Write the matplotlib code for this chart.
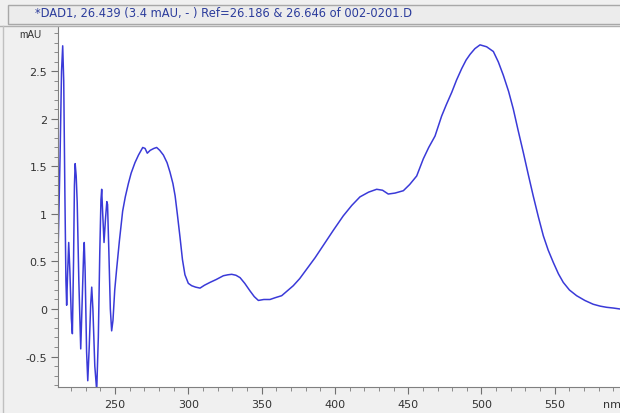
import matplotlib
matplotlib.use("Agg")
import matplotlib.pyplot as plt
from matplotlib.patches import Rectangle
from matplotlib.lines import Line2D
from matplotlib.ticker import MultipleLocator

plt.rcParams['font.family'] = ['DejaVu Sans']

# UV/Vis spectrum (wavelength in nm, absorbance in mAU)
wavelength = [
    211.3, 212.5, 213.5, 214.3, 215.0, 215.8, 216.5, 217.0, 217.6, 218.4,
    219.2, 220.2, 220.9, 221.7, 222.3, 222.8, 223.5, 224.2, 225.3, 226.6,
    227.6, 228.6, 229.0, 229.6, 230.6, 231.4, 232.4, 233.4, 234.1, 234.9,
    236.2, 237.5, 238.6, 239.6, 240.4, 240.9, 241.6, 242.5, 243.5, 244.4,
    244.9, 245.8, 246.8, 247.7, 248.6, 249.8, 251.1, 253.0, 255.2, 257.0,
    259.1, 261.0, 263.6, 266.0, 268.9, 270.5, 272.0, 274.0, 276.5, 278.4,
    280.5, 283.0, 285.5, 287.5, 289.5, 291.0, 292.5, 294.3, 296.0, 297.7,
    300.0, 302.3, 305.0, 308.0, 311.0, 314.8, 319.0, 323.9, 327.0, 329.6,
    332.5, 335.3, 338.5, 342.1, 345.0, 347.8, 351.5, 355.7, 359.5, 363.7,
    367.5, 371.6, 376.0, 380.8, 386.5, 392.1, 399.0, 405.7, 411.5, 417.1,
    423.0, 428.5, 432.5, 436.4, 441.0, 446.7, 451.0, 455.8, 460.3, 464.0,
    468.3, 472.8, 476.0, 479.7, 483.0, 486.5, 489.5, 492.2, 495.5, 499.0,
    503.5, 508.1, 511.5, 514.9, 518.5, 521.7, 525.0, 528.5, 532.0, 535.3,
    538.8, 542.2, 545.5, 549.0, 552.5, 555.8, 560.0, 564.9, 570.5, 576.2,
    581.0, 585.3, 590.0, 594.5,
]
absorbance = [
    0.71, 1.60, 2.50, 2.77, 2.40, 1.20, 0.30, 0.04, 0.35, 0.70,
    0.40, -0.10, -0.26, 0.50, 1.30, 1.53, 1.40, 1.12, 0.30, -0.42,
    0.10, 0.60, 0.70, 0.40, -0.45, -0.755, -0.40, 0.05, 0.23, 0.00,
    -0.60, -0.86, -0.30, 0.60, 1.15, 1.26, 1.00, 0.70, 0.95, 1.13,
    1.10, 0.60, 0.00, -0.23, -0.12, 0.20, 0.42, 0.72, 1.03, 1.18,
    1.32, 1.43, 1.54, 1.62, 1.70, 1.69, 1.64, 1.67, 1.69, 1.70,
    1.67, 1.62, 1.54, 1.44, 1.32, 1.19, 1.00, 0.76, 0.52, 0.36,
    0.27, 0.245, 0.23, 0.22, 0.25, 0.28, 0.31, 0.35, 0.36, 0.365,
    0.355, 0.33, 0.27, 0.19, 0.13, 0.09, 0.10, 0.10, 0.12, 0.14,
    0.19, 0.245, 0.32, 0.42, 0.54, 0.67, 0.83, 0.98, 1.09, 1.18,
    1.23, 1.26, 1.25, 1.21, 1.22, 1.245, 1.31, 1.40, 1.58, 1.70,
    1.82, 2.03, 2.15, 2.28, 2.41, 2.53, 2.62, 2.68, 2.74, 2.78,
    2.76, 2.71, 2.60, 2.46, 2.29, 2.105, 1.88, 1.65, 1.41, 1.19,
    0.97, 0.77, 0.62, 0.49, 0.37, 0.28, 0.20, 0.14, 0.09, 0.05,
    0.03, 0.018, 0.01, 0.00,
]

header = "*DAD1, 26.439 (3.4 mAU, - ) Ref=26.186 & 26.646 of 002-0201.D"
y_ticks = [-0.5, 0, 0.5, 1, 1.5, 2, 2.5]
y_labels = ["-0.5", "0", "0.5", "1", "1.5", "2", "2.5"]
x_ticks = [250, 300, 350, 400, 450, 500, 550]

W, H = 620, 414
fig = plt.figure(figsize=(W / 100, H / 100), dpi=100, facecolor="#f0f0f0")

# window chrome: header strip with the trace description
fig.patches.append(Rectangle((8 / W, 1 - 25 / H), 1, 19 / H, transform=fig.transFigure,
                             facecolor="#ececec", edgecolor="#a8a8a8", lw=1.0))
fig.lines.append(Line2D([0, 1], [1 - 27 / H, 1 - 27 / H], transform=fig.transFigure,
                        color="#b0b0b0", lw=1.0))
fig.lines.append(Line2D([2.5 / W, 2.5 / W], [0, 1 - 27 / H], transform=fig.transFigure,
                        color="#c0c0c0", lw=1.0))
fig.text(35 / W, 1 - 14 / H, header, color="#2b3c9c", fontsize=8.3, va="center", ha="left")

ax = fig.add_axes([58.3 / W, 1 - 388 / H, 1 - 58.3 / W, (388 - 28) / H])
ax.set_facecolor("white")
ax.plot(wavelength, absorbance, color="#3a3ad8", lw=1.1)

ax.set_xlim(211.3, 594.5)
ax.set_ylim(-0.821, 2.968)

ax.set_xticks(x_ticks)
ax.set_xticklabels([str(t) for t in x_ticks])
ax.xaxis.set_minor_locator(MultipleLocator(10))
ax.set_yticks(y_ticks)
ax.set_yticklabels(y_labels)
ax.yaxis.set_minor_locator(MultipleLocator(0.1))

ax.tick_params(which="major", length=5, width=0.8, color="#707070",
               labelsize=8, labelcolor="#333333", pad=3)
ax.tick_params(which="minor", length=3, width=0.7, color="#8a8a8a")
ax.tick_params(axis="x", which="major", pad=4)

for side in ("top", "right"):
    ax.spines[side].set_visible(False)
for side in ("left", "bottom"):
    ax.spines[side].set_color("#808080")
    ax.spines[side].set_linewidth(0.8)

fig.text(42 / W, 1 - 35 / H, "mAU", fontsize=7.2, color="#333333", ha="right", va="center",
         family="Liberation Sans")
fig.text(612 / W, 1 - 405 / H, "nm", fontsize=8, color="#333333", ha="center", va="center")

fig.savefig("out.png", dpi=100, facecolor=fig.get_facecolor())
